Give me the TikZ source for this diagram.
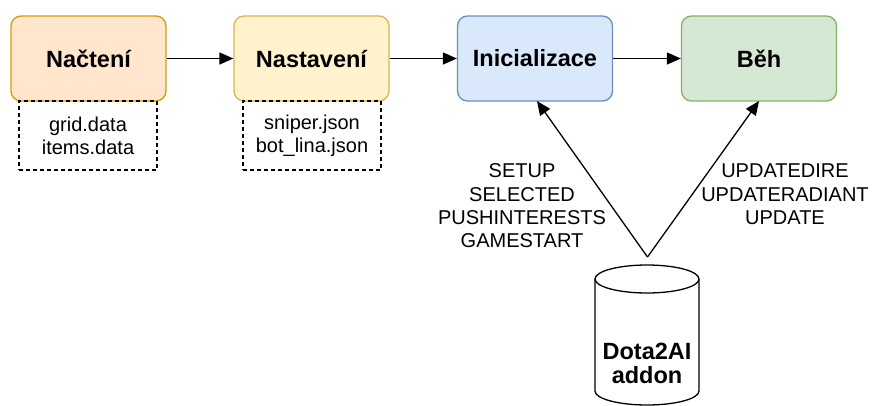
\documentclass[tikz,border=0pt]{standalone}
\usepackage{fontspec}
\setmainfont{Liberation Sans}
\usetikzlibrary{arrows.meta}

\definecolor{orangefill}{HTML}{FFE6CC}\definecolor{orangeline}{HTML}{D79B00}
\definecolor{yellowfill}{HTML}{FFF2CC}\definecolor{yellowline}{HTML}{D6B656}
\definecolor{bluefill}{HTML}{DAE8FC}\definecolor{blueline}{HTML}{6C8EBF}
\definecolor{greenfill}{HTML}{D5E8D4}\definecolor{greenline}{HTML}{82B366}

\tikzset{
  stage/.style={draw, line width=1.3pt, rounded corners=10pt, minimum width=155pt,
    minimum height=85pt, inner sep=0pt, font=\fontsize{23.5}{23.3}\selectfont\bfseries},
  files/.style={draw, dashed, dash pattern=on 4pt off 3pt, line width=1.2pt,
    minimum width=138pt, minimum height=69pt, inner sep=0pt, align=center,
    font=\fontsize{20}{23.3}\selectfont},
  msgs/.style={align=center, inner sep=0pt, font=\fontsize{20}{23.3}\selectfont},
  flow/.style={line width=1.3pt, -{Triangle[length=14pt,width=12pt]}},
}

\begin{document}
\begin{tikzpicture}[x=1pt,y=-1pt]
\useasboundingbox (0,0) rectangle (876,405);

% pipeline stages
\node[stage, fill=orangefill, draw=orangeline] (load)  at (88.5,58.5)  {Načtení};
\node[stage, fill=yellowfill, draw=yellowline] (setup) at (311.5,58.5) {Nastavení};
\node[stage, fill=bluefill,   draw=blueline]   (init)  at (535,58.5)   {Inicializace};
\node[stage, fill=greenfill,  draw=greenline]  (run)   at (759,58.5)   {Běh};

% input files under the first two stages
\node[files] (loadfiles)  at (88,135.5)  {grid.data\\items.data};
\node[files] (setupfiles) at (312,135.5) {sniper.json\\bot\_lina.json};

\draw[flow] (load) -- (setup);
\draw[flow] (setup) -- (init);
\draw[flow] (init) -- (run);

% addon database
\draw[line width=1.3pt, fill=white]
  (595,279) -- (595,391) arc[start angle=180, end angle=0, x radius=52, y radius=14]
  -- (699,279) arc[start angle=0, end angle=-180, x radius=52, y radius=14] -- cycle;
\draw[line width=1.3pt] (595,279) arc[start angle=180, end angle=0, x radius=52, y radius=14];
\node[inner sep=0pt, align=center, font=\fontsize{23.5}{23.3}\selectfont\bfseries]
  (addon) at (647,363.5) {Dota2AI\\addon};
\coordinate (addontop) at (647.5,257);

\coordinate (initin) at (537,101);
\coordinate (runin)  at (759,101);
\draw[flow] (addontop) -- (initin);
\draw[flow] (addontop) -- (runin);

% messages sent by the addon
\node[msgs] (initmsgs) at (522,206)   {SETUP\\SELECTED\\PUSHINTERESTS\\GAMESTART};
\node[msgs] (runmsgs)  at (785,194.5) {UPDATEDIRE\\UPDATERADIANT\\UPDATE};
\end{tikzpicture}
\end{document}
